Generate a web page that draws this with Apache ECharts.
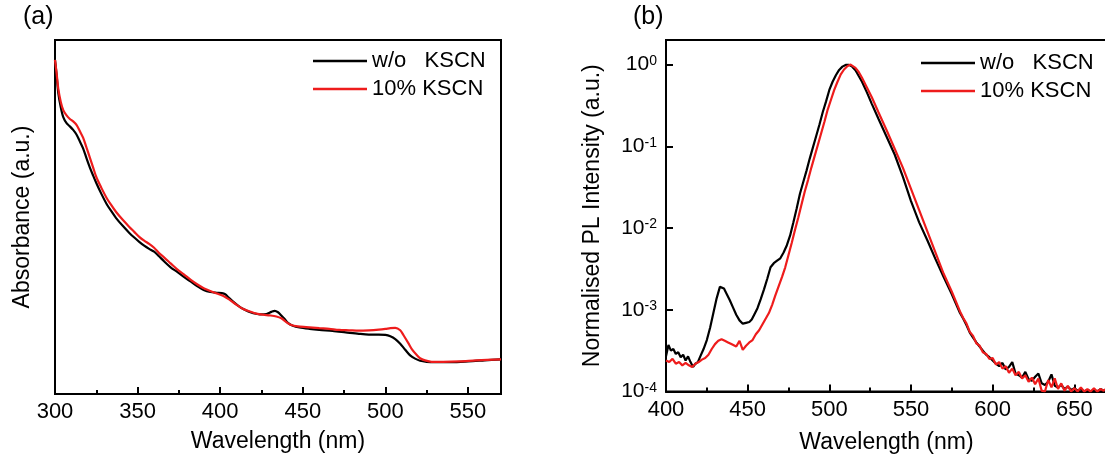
<!DOCTYPE html>
<html>
<head>
<meta charset="utf-8">
<script src="https://cdn.jsdelivr.net/npm/echarts@6/dist/echarts.min.js"></script>
<style>
html,body{margin:0;padding:0;background:#ffffff;}
#chart{width:1105px;height:462px;}
</style>
</head>
<body>
<div id="chart"></div>
<script>
// ---------------- DATA ----------------
const seriesNames = ['w/o   KSCN', '10% KSCN'];
const panelLabels = ['(a)', '(b)'];

// Panel (a): absorbance (arbitrary units)
const aBlackNm  = [300,301,302,303.5,305,307,309,311,313,315,317,319,321,323,325,328,331,334,337,341,345,348,351,354,357,360,363,366,370,374,378,382,386,390,394,398,401,403,405,408,411,414,417,420,424,428,431,433,435,437,439,441,444,448,454,460,468,476,484,490,496,500,503,506,509,512,515,518,521,525,530,540,550,560,570];
const aBlackAbs = [0.944,0.900,0.850,0.810,0.782,0.765,0.756,0.746,0.733,0.714,0.694,0.667,0.641,0.618,0.596,0.566,0.539,0.517,0.497,0.475,0.455,0.442,0.430,0.419,0.410,0.402,0.389,0.375,0.358,0.345,0.331,0.318,0.305,0.294,0.288,0.286,0.285,0.282,0.273,0.260,0.249,0.240,0.233,0.228,0.225,0.226,0.232,0.235,0.231,0.222,0.212,0.201,0.193,0.188,0.184,0.181,0.178,0.174,0.170,0.168,0.168,0.167,0.163,0.155,0.142,0.125,0.109,0.100,0.094,0.091,0.090,0.090,0.092,0.095,0.098];

const aRedNm  = [300,301,302,303.5,305,307,309,311,313,315,317,319,321,323,325,328,331,334,337,341,345,348,351,354,357,360,363,366,370,374,378,382,386,390,394,398,402,406,410,414,418,422,426,430,434,437,440,443,447,452,460,466,472,478,484,490,496,500,503,506,509,511,514,516,519,521,524,528,535,545,555,570];
const aRedAbs = [0.944,0.905,0.862,0.825,0.802,0.787,0.777,0.770,0.760,0.743,0.724,0.697,0.669,0.641,0.613,0.583,0.556,0.534,0.514,0.492,0.472,0.458,0.444,0.433,0.424,0.413,0.398,0.386,0.369,0.352,0.338,0.323,0.310,0.299,0.291,0.284,0.277,0.265,0.252,0.240,0.233,0.227,0.224,0.222,0.219,0.214,0.203,0.195,0.191,0.189,0.186,0.184,0.181,0.180,0.179,0.180,0.182,0.184,0.186,0.187,0.180,0.166,0.143,0.127,0.110,0.101,0.095,0.091,0.091,0.092,0.095,0.098];

// Panel (b): normalised PL intensity, stored as log10 exponents
const bBlackNm  = [400,401.5,403,404.5,406,407.5,409,410.5,412,413.5,415,416.6,418,419.5,421,423,425,427,429,431,433,434,435.5,437,439,441,443,445,447,449,451,452.5,454,456,458,460,462,464,466,468,470,472,474,476,478,480,482,484,486,488,490,492,494,496,498,500,502,504,506,508,510,511,512,514,516,518,520,523,526,530,535,540,545,550,555,560,565,570,575];
const bBlackLog = [-3.57,-3.43,-3.50,-3.48,-3.54,-3.52,-3.58,-3.55,-3.62,-3.57,-3.64,-3.70,-3.66,-3.64,-3.57,-3.48,-3.37,-3.22,-3.04,-2.86,-2.72,-2.70,-2.74,-2.80,-2.88,-2.97,-3.06,-3.13,-3.17,-3.16,-3.15,-3.12,-3.06,-2.98,-2.87,-2.75,-2.62,-2.48,-2.43,-2.40,-2.37,-2.30,-2.21,-2.09,-1.93,-1.76,-1.58,-1.44,-1.30,-1.15,-1.01,-0.87,-0.73,-0.58,-0.45,-0.31,-0.21,-0.13,-0.065,-0.025,-0.004,0,-0.003,-0.025,-0.07,-0.14,-0.21,-0.34,-0.48,-0.66,-0.88,-1.10,-1.37,-1.67,-1.93,-2.15,-2.38,-2.60,-2.81];

const bRedNm  = [400,402,404,406,408,410,412,414,416,418,420,422,424,426,428,430,432,434,436,438,440,443,445,447,449,451,453,455,457,459,461,463,465,467,469,471,473,475,477,479,481,483,485,487,489,491,493,495,497,499,501,503,505,507,509,511,512,513,514,516,518,520,523,526,530,535,540,545,550,555,560,565,570,575];
const bRedLog = [-3.62,-3.64,-3.60,-3.66,-3.64,-3.68,-3.65,-3.68,-3.70,-3.66,-3.64,-3.61,-3.59,-3.55,-3.48,-3.42,-3.38,-3.36,-3.38,-3.40,-3.42,-3.45,-3.38,-3.49,-3.44,-3.40,-3.37,-3.30,-3.25,-3.18,-3.11,-3.04,-2.94,-2.82,-2.71,-2.60,-2.48,-2.33,-2.18,-2.02,-1.87,-1.71,-1.55,-1.41,-1.26,-1.12,-0.98,-0.84,-0.70,-0.55,-0.43,-0.31,-0.21,-0.12,-0.06,-0.02,-0.006,0,-0.004,-0.04,-0.09,-0.16,-0.28,-0.40,-0.58,-0.80,-1.03,-1.26,-1.52,-1.78,-2.04,-2.30,-2.56,-2.78];

// Noisy tails (580–670 nm), shared wavelengths
const bTailNm = [580,582,584,586,588,590,592,594,596,598,600,602,604,606,608,610,612,614,616,618,620,622,624,626,628,630,632,634,636,638,640,642,644,646,648,650,652,654,656,658,660,662,664,666,668,670];
const bBlackTailLog = [-3.04,-3.11,-3.19,-3.28,-3.34,-3.40,-3.45,-3.50,-3.55,-3.58,-3.62,-3.66,-3.69,-3.65,-3.73,-3.70,-3.64,-3.78,-3.80,-3.83,-3.76,-3.85,-3.87,-3.82,-3.78,-3.90,-3.92,-3.88,-3.79,-3.93,-3.95,-3.92,-3.97,-3.94,-3.98,-3.96,-3.99,-3.97,-4.00,-3.98,-4.00,-3.98,-4.00,-3.97,-3.99,-3.98];
const bRedTailLog   = [-3.02,-3.10,-3.17,-3.27,-3.32,-3.41,-3.44,-3.52,-3.54,-3.60,-3.59,-3.67,-3.64,-3.72,-3.69,-3.77,-3.72,-3.80,-3.76,-3.84,-3.80,-3.88,-3.83,-3.91,-3.84,-3.99,-4.00,-3.86,-3.95,-3.84,-3.97,-3.90,-3.99,-3.93,-4.00,-3.96,-4.00,-3.95,-4.00,-3.97,-4.00,-3.96,-4.00,-3.97,-3.99,-3.96];

// Annotations (data coordinates)
const aNotes = [
  { text: 'n=1', nm: 402.8, val: 0.322 },
  { text: 'n=2', nm: 436.6, val: 0.277 },
  { text: 'n=\u221E', nm: 507.6, val: 0.223 }
];
const bNotes = [
  { text: 'n=2', nm: 432.9, exp: -2.469 },
  { text: 'n=3', nm: 461.0, exp: -2.082 }
];

// ---------------- STYLE ----------------
const FONT = '"Liberation Sans", Arial, Helvetica, sans-serif';
const INK = '#000000';
const BLACK = '#000000';
const RED = '#ee1c1c';

const chart = echarts.init(document.getElementById('chart'), null, { renderer: 'canvas' });

function xy(xs, ys) { return xs.map((x, i) => [x, ys[i]]); }
function xyLog(xs, es) { return xs.map((x, i) => [x, Math.pow(10, es[i])]); }

function majorX(grid, min, max, gap) {
  return {
    type: 'value', gridIndex: grid, min: min, max: max, interval: 50, position: 'bottom',
    axisLine: { show: true, onZero: false, lineStyle: { color: INK, width: 2 } },
    axisTick: { show: true, inside: true, length: 7, lineStyle: { color: INK, width: 2 } },
    axisLabel: { show: true, margin: 7, fontSize: 22, color: INK, fontFamily: FONT, showMaxLabel: false },
    splitLine: { show: false },
    name: 'Wavelength (nm)', nameLocation: 'middle', nameGap: gap,
    nameTextStyle: { fontSize: 23, color: INK, fontFamily: FONT }
  };
}
function minorX(grid, min, max) {
  return {
    type: 'value', gridIndex: grid, min: min, max: max, interval: 25, position: 'bottom',
    axisLine: { show: false, onZero: false },
    axisTick: { show: true, inside: true, length: 4, lineStyle: { color: INK, width: 2 } },
    axisLabel: { show: false },
    splitLine: { show: false }
  };
}

function noteSeries(xAxisIndex, yAxisIndex, data) {
  return {
    type: 'scatter', xAxisIndex: xAxisIndex, yAxisIndex: yAxisIndex,
    symbolSize: 1, itemStyle: { opacity: 0 }, silent: true, z: 5,
    data: data,
    label: { show: true, position: 'inside', formatter: '{b}', fontSize: 22, color: INK, fontFamily: FONT }
  };
}

const legendBase = {
  data: seriesNames, orient: 'vertical', icon: 'rect', itemWidth: 54, itemHeight: 2.5, itemGap: 6,
  textStyle: { fontSize: 22, color: INK, fontFamily: FONT }, selectedMode: false
};

const option = {
  animation: false,
  backgroundColor: '#ffffff',
  title: [
    { text: panelLabels[0], left: 18, top: 0, textStyle: { fontSize: 25, fontWeight: 'normal', color: INK, fontFamily: FONT } },
    { text: panelLabels[1], left: 628, top: 0, textStyle: { fontSize: 25, fontWeight: 'normal', color: INK, fontFamily: FONT } }
  ],
  legend: [
    Object.assign({}, legendBase, { left: 308, top: 45 }),
    Object.assign({}, legendBase, { left: 916, top: 47 })
  ],
  grid: [
    { left: 55, top: 40, width: 446, height: 354, show: true, borderColor: INK, borderWidth: 2, containLabel: false, outerBoundsMode: 'none' },
    { left: 666, top: 40, width: 441, height: 351.5, show: true, borderColor: INK, borderWidth: 2, containLabel: false, outerBoundsMode: 'none' }
  ],
  xAxis: [
    majorX(0, 300, 570, 36),
    minorX(0, 300, 570),
    majorX(1, 400, 670, 40),
    minorX(1, 400, 670)
  ],
  yAxis: [
    {
      type: 'value', gridIndex: 0, min: 0, max: 1,
      axisLine: { show: true, onZero: false, lineStyle: { color: INK, width: 2 } },
      axisTick: { show: false }, axisLabel: { show: false }, splitLine: { show: false },
      name: 'Absorbance (a.u.)', nameLocation: 'middle', nameGap: 21,
      nameTextStyle: { fontSize: 23, color: INK, fontFamily: FONT }
    },
    {
      type: 'log', logBase: 10, gridIndex: 1, min: 0.0001, max: 2,
      axisLine: { show: true, onZero: false, lineStyle: { color: INK, width: 2 } },
      axisTick: { show: true, inside: true, length: 7, lineStyle: { color: INK, width: 2 } },
      axisLabel: {
        show: true, margin: 9, showMaxLabel: false,
        formatter: function (v) { const e = Math.round(Math.log10(v)); return '{b|10}{s|' + e + '}'; },
        rich: {
          b: { fontSize: 21, color: INK, fontFamily: FONT },
          s: { fontSize: 14, color: INK, fontFamily: FONT, verticalAlign: 'top' }
        }
      },
      splitLine: { show: false }, minorTick: { show: false },
      name: 'Normalised PL Intensity (a.u.)', nameLocation: 'middle', nameGap: 62,
      nameTextStyle: { fontSize: 23, color: INK, fontFamily: FONT }
    }
  ],
  series: [
    { name: seriesNames[0], type: 'line', xAxisIndex: 0, yAxisIndex: 0, showSymbol: false, symbol: 'none', smooth: 0.3,
      color: BLACK, lineStyle: { color: BLACK, width: 2.2 }, data: xy(aBlackNm, aBlackAbs) },
    { name: seriesNames[1], type: 'line', xAxisIndex: 0, yAxisIndex: 0, showSymbol: false, symbol: 'none', smooth: 0.3,
      color: RED, lineStyle: { color: RED, width: 2.2 }, data: xy(aRedNm, aRedAbs) },
    { name: seriesNames[0], type: 'line', xAxisIndex: 2, yAxisIndex: 1, showSymbol: false, symbol: 'none',
      color: BLACK, lineStyle: { color: BLACK, width: 2.2 },
      data: xyLog(bBlackNm, bBlackLog).concat(xyLog(bTailNm, bBlackTailLog)) },
    { name: seriesNames[1], type: 'line', xAxisIndex: 2, yAxisIndex: 1, showSymbol: false, symbol: 'none',
      color: RED, lineStyle: { color: RED, width: 2.2 },
      data: xyLog(bRedNm, bRedLog).concat(xyLog(bTailNm, bRedTailLog)) },
    noteSeries(0, 0, aNotes.map(n => ({ name: n.text, value: [n.nm, n.val] }))),
    noteSeries(2, 1, bNotes.map(n => ({ name: n.text, value: [n.nm, Math.pow(10, n.exp)] })))
  ]
};

chart.setOption(option);
</script>
</body>
</html>
